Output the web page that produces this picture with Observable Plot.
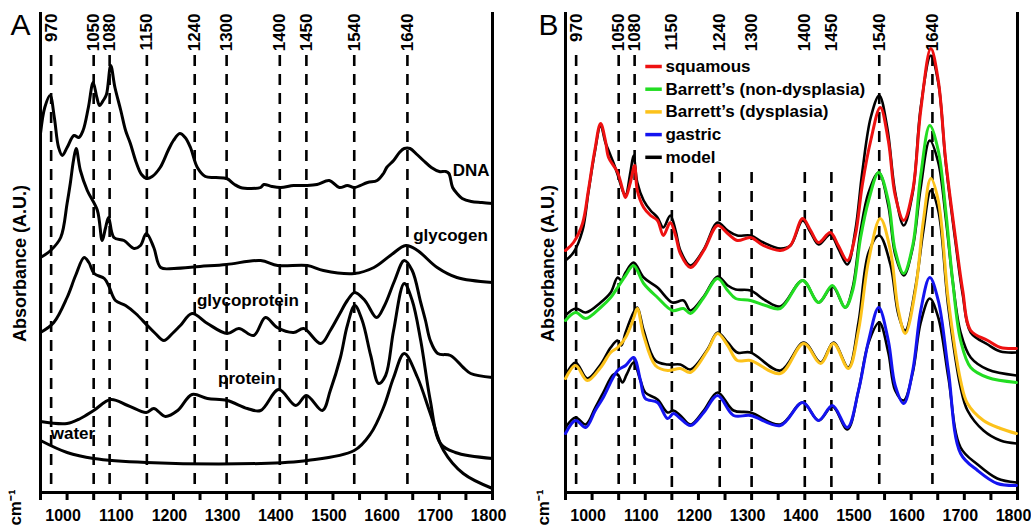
<!DOCTYPE html>
<html><head><meta charset="utf-8">
<script src="https://cdn.jsdelivr.net/npm/d3@7"></script>
<script src="https://cdn.jsdelivr.net/npm/@observablehq/plot@0.6"></script>
<style>
body{margin:0;background:#fff;}
#wrap{display:flex;width:1031px;height:525px;overflow:hidden;}
</style></head><body><div id="wrap"></div>
<script>
// band positions (cm-1) marked with dashed lines
const bandLabels = [970,1050,1080,1150,1240,1300,1400,1450,1540,1640];
const xTicks = d3.range(950, 1801, 50);
const xTickLabels = d3.range(1000, 1801, 100);

// Panel A: reference spectra [wavenumber, absorbance (A.U.)]
const dna = [[950,359],[958,385],[968,397],[976,375],[984,345],[991,337],[1000,345],[1013,357],[1022,355],[1030,362],[1040,385],[1049,410],[1056,395],[1061,387],[1068,392],[1074,398],[1082,427],[1090,405],[1101,382],[1110,362],[1119,349],[1130,330],[1140,318],[1150,314],[1160,316],[1175,325],[1190,342],[1200,352],[1212,359],[1222,355],[1232,345],[1245,325],[1260,316],[1280,315],[1300,314],[1315,308],[1326,305],[1345,304],[1364,305],[1370,308],[1385,306],[1402,305],[1426,307],[1449,307],[1470,308],[1493,312],[1512,305],[1527,307],[1540,305],[1565,310],[1583,312],[1595,319],[1601,325],[1614,332],[1625,340],[1634,344],[1645,344],[1658,338],[1670,332],[1685,325],[1700,321],[1712,321],[1718,319],[1725,305],[1735,298],[1743,294],[1760,291],[1780,290],[1800,289]];
const glycogen = [[950,235],[969,242],[988,255],[1000,289],[1006,309],[1012,332],[1017,344],[1025,322],[1038,302],[1057,282],[1066,252],[1072,264],[1078,275],[1088,255],[1107,252],[1126,244],[1138,247],[1149,259],[1163,245],[1176,225],[1201,224],[1250,226],[1300,228],[1364,232],[1396,227],[1452,227],[1482,222],[1540,219],[1577,225],[1608,237],[1637,247],[1659,242],[1696,225],[1733,215],[1800,210]];
const glycoprotein = [[950,160],[975,170],[1000,195],[1016,217],[1032,235],[1041,230],[1051,219],[1070,214],[1078,207],[1091,192],[1110,187],[1129,179],[1151,167],[1166,159],[1182,152],[1198,159],[1213,167],[1235,179],[1264,169],[1301,159],[1323,164],[1351,157],[1373,175],[1395,165],[1426,160],[1445,164],[1477,149],[1495,162],[1513,179],[1527,192],[1541,200],[1560,192],[1582,175],[1597,187],[1616,212],[1634,232],[1649,222],[1665,190],[1674,172],[1683,152],[1697,139],[1721,137],[1745,125],[1759,119],[1800,115]];
const protein = [[950,71],[1000,69],[1025,74],[1050,82],[1082,93],[1114,87],[1149,80],[1163,84],[1185,76],[1208,82],[1235,98],[1264,94],[1301,92],[1339,84],[1364,82],[1398,103],[1430,87],[1450,97],[1480,82],[1495,102],[1514,135],[1527,167],[1541,187],[1555,172],[1571,137],[1586,109],[1599,117],[1614,162],[1634,209],[1649,192],[1665,152],[1683,92],[1702,49],[1730,40],[1800,34]];
const water = [[950,52],[1000,40],[1050,34],[1149,30],[1364,29],[1452,32],[1540,42],[1571,59],[1595,85],[1614,115],[1634,139],[1659,115],[1683,79],[1708,42],[1745,19],[1800,4]];
const spectraA = [dna, glycogen, glycoprotein, protein, water];
const namesA = ["DNA","glycogen","glycoprotein","protein","water"];
const labelXA = [1760,1721,1340,1338,1011];
const labelYA = [322,257,192,114,59];

// Panel B: tissue spectra and model fits
const legendNames = ["squamous","Barrett\u2019s (non-dysplasia)","Barrett\u2019s (dysplasia)","gastric","model"];
const legendColors = ["#ee1111","#22dd22","#fcc21b","#1414f0","#000000"];
const squamous = [[950,242],[965,250],[982,269],[993,302],[1005,342],[1016,369],[1025,352],[1031,335],[1048,320],[1059,300],[1063,295],[1072,310],[1080,327],[1085,302],[1097,285],[1110,277],[1123,272],[1134,257],[1147,270],[1157,257],[1166,239],[1185,225],[1210,242],[1236,267],[1255,259],[1273,252],[1298,255],[1322,247],[1354,242],[1373,247],[1396,274],[1411,262],[1426,250],[1448,260],[1463,247],[1480,232],[1495,257],[1508,307],[1524,352],[1542,385],[1557,352],[1570,297],[1586,272],[1603,302],[1618,382],[1637,444],[1651,412],[1665,332],[1684,252],[1697,202],[1712,162],[1744,152],[1768,145],[1798,144]];
const nonDysplasia = [[950,172],[969,180],[988,174],[1016,185],[1035,195],[1048,205],[1063,217],[1078,227],[1097,209],[1123,195],[1151,182],[1172,184],[1185,179],[1210,195],[1236,214],[1255,202],[1270,194],[1298,192],[1326,187],[1354,184],[1396,212],[1426,190],[1452,207],[1476,185],[1490,202],[1505,255],[1520,292],[1539,320],[1557,292],[1570,242],[1586,219],[1603,247],[1618,317],[1635,367],[1651,342],[1665,282],[1678,212],[1693,152],[1712,125],[1744,115],[1798,110]];
const dysplasia = [[950,114],[969,127],[991,112],[1016,125],[1035,140],[1048,145],[1063,155],[1078,174],[1085,184],[1097,157],[1119,127],[1142,122],[1166,124],[1185,120],[1217,142],[1236,159],[1255,147],[1273,132],[1298,132],[1354,119],[1398,149],[1430,129],[1454,149],[1482,124],[1501,162],[1520,232],[1542,274],[1561,242],[1576,182],[1589,159],[1608,202],[1623,272],[1637,314],[1651,292],[1670,192],[1693,112],[1706,89],[1736,72],[1768,64],[1798,59]];
const gastric = [[950,59],[969,72],[988,65],[1006,82],[1021,95],[1048,122],[1063,127],[1078,135],[1091,112],[1100,94],[1123,90],[1142,74],[1153,79],[1166,74],[1185,67],[1210,80],[1236,97],[1266,77],[1298,77],[1354,67],[1396,90],[1426,72],[1452,87],[1480,65],[1501,102],[1520,152],[1539,185],[1557,152],[1570,107],[1586,89],[1603,122],[1618,182],[1635,215],[1651,192],[1670,122],[1693,39],[1725,22],[1762,9],[1798,7]];
const modelSquamous = [[950,232],[965,240],[982,262],[993,300],[1005,340],[1016,367],[1025,350],[1031,342],[1040,330],[1048,318],[1059,300],[1063,297],[1072,320],[1078,337],[1085,310],[1097,292],[1110,282],[1123,275],[1134,265],[1147,277],[1157,262],[1166,242],[1185,227],[1210,243],[1236,270],[1255,262],[1273,257],[1298,257],[1322,250],[1354,244],[1373,247],[1396,272],[1411,260],[1426,248],[1448,258],[1463,244],[1480,228],[1495,262],[1508,320],[1524,375],[1540,397],[1555,365],[1570,300],[1586,267],[1603,300],[1618,385],[1637,437],[1651,410],[1665,330],[1684,248],[1697,198],[1712,160],[1744,148],[1768,141],[1798,140]];
const modelNonDysplasia = [[950,177],[969,184],[988,180],[1016,190],[1035,200],[1048,215],[1055,212],[1063,220],[1078,230],[1097,215],[1123,205],[1151,190],[1172,192],[1185,182],[1210,196],[1236,216],[1255,207],[1270,203],[1298,202],[1326,192],[1354,186],[1396,212],[1426,190],[1452,206],[1476,185],[1490,205],[1505,262],[1520,300],[1539,320],[1557,287],[1570,238],[1586,217],[1603,245],[1618,305],[1635,352],[1651,330],[1665,275],[1678,212],[1693,160],[1712,135],[1744,123],[1798,117]];
const modelDysplasia = [[950,117],[969,130],[991,114],[1016,128],[1035,145],[1048,152],[1055,147],[1063,160],[1078,180],[1085,185],[1097,162],[1119,132],[1142,128],[1166,128],[1185,123],[1217,143],[1236,160],[1255,150],[1273,140],[1298,140],[1354,122],[1398,150],[1430,130],[1454,150],[1482,125],[1501,170],[1520,240],[1540,257],[1561,228],[1576,178],[1589,162],[1608,205],[1623,262],[1637,302],[1651,282],[1670,185],[1693,105],[1706,82],[1736,62],[1768,52],[1798,49]];
const modelGastric = [[950,65],[969,75],[988,68],[1006,85],[1021,100],[1040,118],[1048,118],[1057,110],[1065,118],[1078,130],[1091,112],[1100,100],[1123,93],[1142,80],[1153,82],[1166,77],[1185,68],[1210,82],[1236,100],[1266,82],[1298,80],[1354,68],[1396,90],[1426,72],[1452,86],[1480,63],[1501,102],[1520,150],[1540,170],[1557,140],[1570,102],[1586,92],[1603,120],[1618,170],[1635,194],[1651,175],[1670,115],[1693,45],[1725,28],[1762,14],[1798,10]];
const tissueSpectra = [squamous, nonDysplasia, dysplasia, gastric];
const modelSpectra = [modelSquamous, modelNonDysplasia, modelDysplasia, modelGastric];

const FONT = "'Liberation Sans', Arial, Helvetica, sans-serif";
const line = (arr, stroke, w) => Plot.line(arr, {x: d => d[0], y: d => d[1], stroke, strokeWidth: w, curve: "catmull-rom", strokeLinejoin: "round"});

function frameMarks(letter, dxLetter, shortBands, legendClearTop) {
  return [
    Plot.ruleX(bandLabels, {x: d => d, y1: d => shortBands.includes(d) ? legendClearTop : 437, y2: 5, strokeWidth: 2.6, strokeDasharray: "11,8"}),
    Plot.text(bandLabels, {x: d => d, y: 479, text: d => String(d), rotate: -90, textAnchor: "end", fontSize: 17, fontWeight: "bold"}),
    Plot.ruleY([0], {strokeWidth: 3}),
    Plot.ruleX([950, 1800], {y1: 0, y2: 480, strokeWidth: 3}),
    Plot.ruleX(xTicks, {x: d => d, y1: 0, y2: -8, strokeWidth: 3}),
    Plot.text(xTickLabels, {x: d => d, y: -23, dx: -4, text: d => String(d), fontSize: 16, fontWeight: "bold", lineAnchor: "middle"}),
    Plot.text([letter], {frameAnchor: "top-left", dx: dxLetter, dy: 13, fontSize: 30, fontWeight: "normal", textAnchor: "middle", lineAnchor: "middle"}),
    Plot.text(["Absorbance (A.U.)"], {frameAnchor: "left", dx: dxLetter, dy: 11, rotate: -90, fontSize: 18, fontWeight: "bold", textAnchor: "middle"}),
    Plot.text(["cm\u207B\u00B9"], {frameAnchor: "bottom-left", dx: dxLetter, dy: 15, rotate: -90, fontSize: 17, fontWeight: "bold", textAnchor: "middle"})
  ];
}

const common = {
  height: 525, marginTop: 12, marginBottom: 33,
  x: {domain: [950, 1800], axis: null},
  y: {domain: [0, 480], axis: null},
  style: {fontFamily: FONT, background: "#fff", color: "#000", overflow: "visible"}
};

const chartA = Plot.plot({
  ...common, width: 515, marginLeft: 40, marginRight: 23,
  marks: [
    ...frameMarks("A", -20, [], 437),
    ...spectraA.map(s => line(s, "#000", 3)),
    Plot.text(namesA, {x: (d, i) => labelXA[i], y: (d, i) => labelYA[i], text: d => d, fontSize: 17, fontWeight: "bold", fill: "#000"})
  ]
});

const legendIdx = d3.range(legendNames.length);
const chartB = Plot.plot({
  ...common, width: 516, marginLeft: 50, marginRight: 14,
  marks: [
    ...frameMarks("B", -17, [1150,1240,1300,1400,1450], 320),
    ...modelSpectra.map(s => line(s, "#000", 2.6)),
    ...tissueSpectra.map((s, i) => line(s, legendColors[i], 3)),
    Plot.ruleY(legendIdx, {x1: 1101, x2: 1132, y: i => 426 - i * 22.7, stroke: i => legendColors[i], strokeWidth: 3.5}),
    Plot.text(legendIdx, {x: 1138, y: i => 426 - i * 22.7, text: i => legendNames[i], textAnchor: "start", fontSize: 17, fontWeight: "bold", fill: "#000"})
  ]
});

document.getElementById("wrap").append(chartA, chartB);
</script>
</body></html>
